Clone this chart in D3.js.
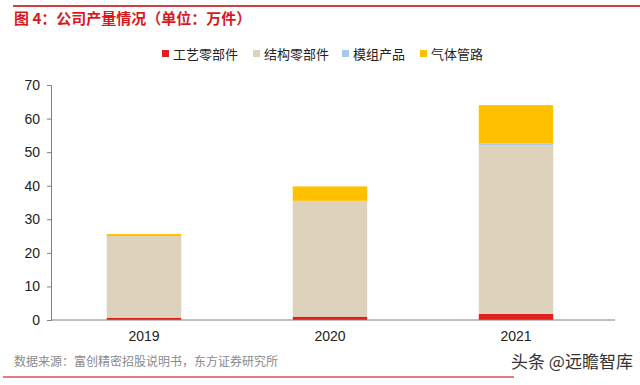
<!DOCTYPE html>
<html>
<head>
<meta charset="utf-8">
<script src="https://cdn.jsdelivr.net/npm/d3@7"></script>
<style>
  body { margin: 0; background: #fff; }
  svg { font-family: "Liberation Sans", Arial, "Noto Sans CJK SC", sans-serif; }
</style>
</head>
<body>
<svg id="canvas" width="640" height="385"></svg>
<script>
// data
let years = ['2019', '2020', '2021'];
let seriesNames = ['工艺零部件', '结构零部件', '模组产品', '气体管路'];
let craftParts = [0.6, 1.0, 1.8];
let structParts = [24.4, 34.4, 50.3];
let moduleProducts = [0, 0.1, 0.5];
let gasLines = [0.6, 4.3, 11.4];
let yTicks = [0, 10, 20, 30, 40, 50, 60, 70];

let colors = ['#E0201B', '#DDD3BC', '#A9C9EA', '#FFC000'];

let canvas = d3.select('#canvas');

// title + top rule
canvas.append('line')
    .attr('x1', 13).attr('x2', 640).attr('y1', 6).attr('y2', 6)
    .attr('stroke', '#C00000').attr('stroke-width', 1.5);
canvas.append('text')
    .attr('x', 14).attr('y', 24)
    .attr('font-size', 15).attr('font-weight', 'bold')
    .attr('fill', '#D7191C')
    .style('font-family', '"Noto Sans CJK SC", sans-serif')
    .text('图 4：公司产量情况（单位：万件）');

let table = years.map((y, i) => ({
    year: y,
    '工艺零部件': craftParts[i],
    '结构零部件': structParts[i],
    '模组产品': moduleProducts[i],
    '气体管路': gasLines[i]
}));

let stacked = d3.stack().keys(seriesNames)(table);

let x = d3.scaleBand().domain(years).range([51, 609]).paddingInner(0.6).paddingOuter(0.3);
let y = d3.scaleLinear().domain([0, 70]).range([320, 85]);

// bars
canvas.append('g').selectAll('g')
    .data(stacked)
    .enter()
    .append('g')
    .attr('fill', (d, i) => colors[i])
    .selectAll('rect')
    .data(d => d)
    .enter()
    .append('rect')
    .attr('x', d => x(d.data.year))
    .attr('width', x.bandwidth())
    .attr('y', d => y(d[1]))
    .attr('height', d => y(d[0]) - y(d[1]));

// y axis
let yAxis = canvas.append('g')
    .attr('transform', 'translate(51,0)')
    .call(d3.axisLeft(y).tickValues(yTicks).tickSize(4).tickPadding(7));
yAxis.select('.domain').attr('stroke', '#808080');
yAxis.selectAll('.tick line').attr('stroke', '#808080');
yAxis.selectAll('text').attr('font-size', 14).attr('fill', '#222')
    .style('font-family', '"Liberation Sans", Arial, sans-serif');

// x axis
let xAxis = canvas.append('g')
    .attr('transform', 'translate(0,320)')
    .call(d3.axisBottom(x).tickSize(0).tickPadding(11));
xAxis.select('.domain').attr('stroke', '#808080').attr('d', 'M51,0H615');
xAxis.selectAll('text').attr('font-size', 14).attr('fill', '#222')
    .style('font-family', '"Liberation Sans", Arial, sans-serif');

// legend
let legendX = [162, 253, 342, 420];
let legend = canvas.append('g').selectAll('g')
    .data(seriesNames)
    .enter()
    .append('g')
    .attr('transform', (d, i) => 'translate(' + legendX[i] + ',54)');
legend.append('rect')
    .attr('x', 0).attr('y', -4).attr('width', 7).attr('height', 7)
    .attr('fill', (d, i) => colors[i]);
legend.append('text')
    .attr('x', 11).attr('y', 5)
    .attr('font-size', 13).attr('fill', '#222')
    .style('font-family', '"Noto Sans CJK SC", sans-serif')
    .text(d => d);

// footer
canvas.append('text')
    .attr('x', 14).attr('y', 366)
    .attr('font-size', 12).attr('fill', '#8a8a8a')
    .style('font-family', '"Noto Sans CJK SC", sans-serif')
    .text('数据来源：富创精密招股说明书，东方证券研究所');
canvas.append('line')
    .attr('x1', 3).attr('x2', 514).attr('y1', 377).attr('y2', 377)
    .attr('stroke', '#C00000').attr('stroke-width', 1.2);
canvas.append('text')
    .attr('x', 511).attr('y', 368)
    .attr('font-size', 17).attr('fill', '#333')
    .style('font-family', '"Noto Sans CJK SC", sans-serif')
    .text('头条 @远瞻智库');
</script>
</body>
</html>
